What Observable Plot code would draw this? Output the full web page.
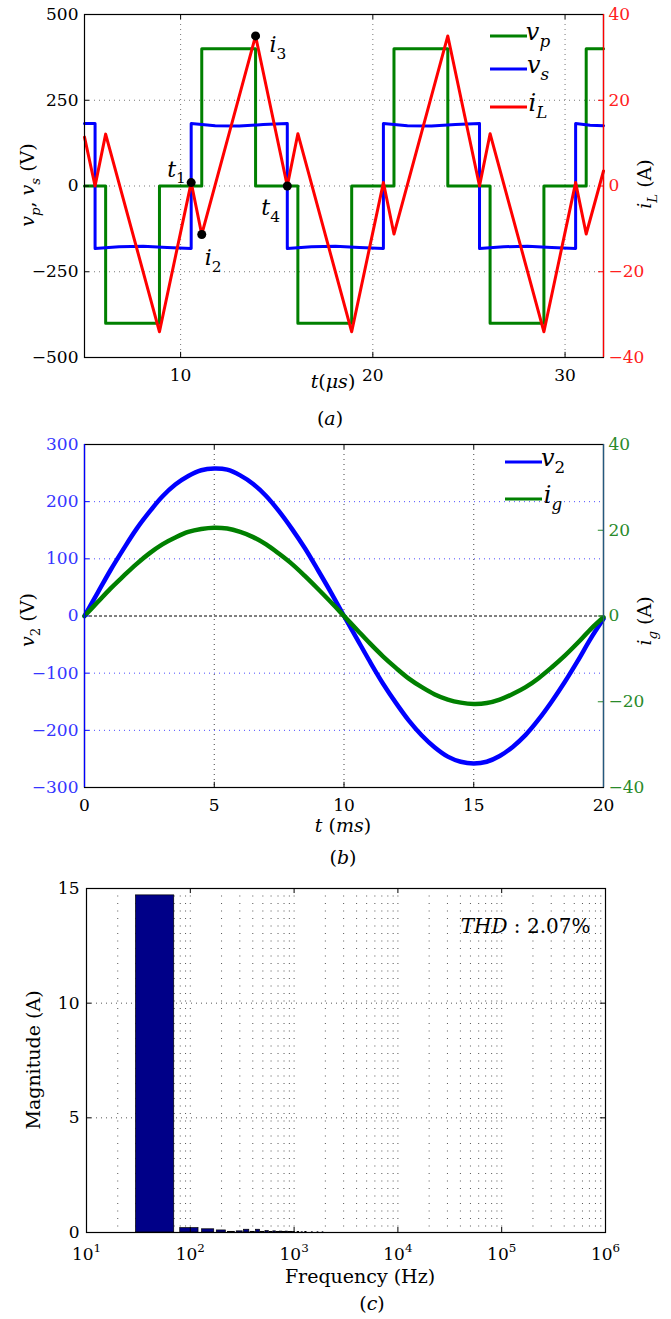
<!DOCTYPE html>
<html><head><meta charset="utf-8">
<script src="https://cdn.jsdelivr.net/npm/d3@7"></script>
<script src="https://cdn.jsdelivr.net/npm/@observablehq/plot@0.6"></script>
<style>
body{margin:0;background:#fff}
#c{width:671px}
#c svg{display:block;overflow:visible}
#c svg text, #c svg tspan{font-family:"DejaVu Serif",serif !important}
</style>
</head><body><div id="c"></div>
<script>
// ---------------- Panel (a) data ----------------
const vpTime = [5, 6.1, 8.9, 11.1, 13.9, 16.1, 18.9, 21.1, 23.9, 26.1, 28.9, 31.1, 32];
const vpVolt = [0, -400, 0, 400, 0, -400, 0, 400, 0, -400, 0, 400, 400];
const vsTime = [5, 5.55, 5.55, 6.8, 8.05, 9.3, 10.55, 10.55, 11.8, 13.05, 14.3, 15.55, 15.55, 16.8, 18.05, 19.3, 20.55, 20.55, 21.8, 23.05, 24.3, 25.55, 25.55, 26.8, 28.05, 29.3, 30.55, 30.55, 31.3, 32];
const vsVolt = [182, 182, -182, -177, -176, -179, -182, 182, 176, 175, 179, 182, -182, -177, -176, -179, -182, 182, 176, 175, 179, 182, -182, -177, -176, -179, -182, 182, 177, 176];
const iLTime = [5, 5.55, 6.1, 8.9, 10.55, 11.1, 13.9, 15.55, 16.1, 18.9, 20.55, 21.1, 23.9, 25.55, 26.1, 28.9, 30.55, 31.1, 32];
const iLAmp  = [11.4, 0, 12.1, -34, 0.8, -11.3, 35, 0, 12.2, -34, 0.8, -11.2, 35, 0, 12.2, -34, 0.8, -11.2, 3.5];
const markTime = [10.55, 11.1, 13.9, 15.55];
const markAmp  = [0.8, -11.3, 35, 0];
const markLabel = ["$t_1$", "$i_2$", "$i_3$", "$t_4$"];
const markOffset = [[-24, -6], [3, 31], [14, 16], [-26, 29]]; // label placement (px)
const aTicksX = [10, 20, 30];
const aTicksV = [-500, -250, 0, 250, 500];
const aTicksI = [-40, -20, 0, 20, 40];

// ---------------- Panel (b) data ----------------
const tMs = [0,0.5,1,1.5,2,2.5,3,3.5,4,4.5,5,5.5,6,6.5,7,7.5,8,8.5,9,9.5,10,10.5,11,11.5,12,12.5,13,13.5,14,14.5,15,15.5,16,16.5,17,17.5,18,18.5,19,19.5,20];
const v2V = [0,40,80,117,152,182,209,230,245,255,258,256,246,231,210,183,152,118,80,41,0,-40,-80,-118,-152,-183,-209,-230,-246,-255,-258,-255,-245,-229,-208,-181,-150,-116,-79,-40,-5];
const igA = [0,3.2,6.4,9.3,12.1,14.6,16.7,18.3,19.6,20.3,20.6,20.4,19.6,18.4,16.7,14.5,12.1,9.3,6.3,3.2,0,-3.2,-6.4,-9.4,-12.1,-14.6,-16.6,-18.3,-19.5,-20.2,-20.5,-20.3,-19.5,-18.2,-16.6,-14.5,-12.0,-9.3,-6.3,-3.1,-0.3];
const bTicksX = [0, 5, 10, 15, 20];
const bTicksV = [-300, -200, -100, 0, 100, 200, 300];
const bTicksI = [-40, -20, 0, 20, 40];

// ---------------- Panel (c) data ----------------
const harmFreq = [50,100,150,200,250,300,350,400,450,500,550,600,650,700,750,800,850,900,950,1000,1100,1200,1300,1500,1700,1900];
const harmMag  = [14.7,0.19,0.14,0.09,0.03,0.05,0.12,0.03,0.12,0.03,0.06,0.02,0.05,0.02,0.04,0.02,0.04,0.02,0.03,0.02,0.02,0.01,0.02,0.01,0.01,0.01];
const harmHalfWidth = 20;
const cDecades = [10, 100, 1000, 10000, 100000, 1000000];
const cTicksY = [0, 5, 10, 15];
const thdText = "$THD$ : 2.07%";

// ---------------- helpers ----------------
const SERIF = "'DejaVu Serif',serif";
const TICK = 17, LABEL = 19;
const minus = d => d < 0 ? "\u2212" + (-d) : String(d);
const NS = "http://www.w3.org/2000/svg";

function mathify(el, s, fs) {
  fs = fs || parseFloat(getComputedStyle(el).fontSize) || 20;
  while (el.firstChild) el.removeChild(el.firstChild);
  let italic = false, cur = 0, i = 0;
  const parts = [];
  while (i < s.length) {
    const c = s[i];
    if (c === "$") { italic = !italic; i++; continue; }
    if (c === "_" || c === "^") {
      let t; const j = i + 1;
      if (s[j] === "{") { const k = s.indexOf("}", j); t = s.slice(j + 1, k); i = k + 1; }
      else { t = s[j]; i = j + 1; }
      parts.push({t, it: italic && /[A-Za-z]/.test(t), shift: c === "_" ? 0.3 * fs : -0.42 * fs, small: true});
      continue;
    }
    let j = i; while (j < s.length && !"$_^".includes(s[j])) j++;
    parts.push({t: s.slice(i, j), it: italic, shift: 0, small: false});
    i = j;
  }
  for (const p of parts) {
    const ts = document.createElementNS(NS, "tspan");
    ts.textContent = p.t;
    if (p.it) ts.setAttribute("font-style", "italic");
    if (p.small) ts.setAttribute("font-size", (0.7 * fs) + "px");
    const d = p.shift - cur;
    if (d) ts.setAttribute("dy", d);
    cur = p.shift;
    el.appendChild(ts);
  }
}
function mathifyAll(svg) {
  svg.querySelectorAll("text").forEach(el => {
    const s = el.textContent;
    if (/[$_^]/.test(s)) mathify(el, s);
  });
}
function addText(svg, s, x, y, {size = LABEL, anchor = "middle", rotate = 0, fill = "black"} = {}) {
  const t = d3.select(svg).append("text")
    .attr("transform", `translate(${x},${y})` + (rotate ? ` rotate(${rotate})` : ""))
    .attr("text-anchor", anchor).attr("font-size", size).attr("fill", fill);
  mathify(t.node(), s, size);
}
function addLegend(svg, items, x1, x2, tx, size) {
  const g = d3.select(svg).append("g");
  for (const it of items) {
    g.append("line").attr("x1", x1).attr("x2", x2).attr("y1", it.y).attr("y2", it.y)
      .attr("stroke", it.color).attr("stroke-width", 3);
    const t = g.append("text").attr("x", tx).attr("y", it.y + 3.5).attr("font-size", size);
    mathify(t.node(), it.label, size);
  }
}
const styleBase = `font-family:${SERIF};font-size:${TICK}px;background:white;color:black;overflow:visible;`;
const gridStyle = (c) => ({stroke: c, strokeOpacity: 1, strokeWidth: 1, strokeDasharray: "1,4"});
const root = document.getElementById("c");

// ---------------- Panel (a) ----------------
const K = 12.5; // iL (A) -> left-axis units
const A_vp = vpTime.map((t, k) => ({t, v: vpVolt[k]}));
const A_vs = vsTime.map((t, k) => ({t, v: vsVolt[k]}));
const A_iL = iLTime.map((t, k) => ({t, i: iLAmp[k]}));
const A_mk = markTime.map((t, k) => ({t, i: markAmp[k], label: markLabel[k]}));

const figA = Plot.plot({
  width: 671, height: 435, marginTop: 14, marginBottom: 78, marginLeft: 84, marginRight: 68,
  style: styleBase,
  x: {domain: [5, 32]},
  y: {domain: [-500, 500]},
  marks: [
    Plot.gridX(aTicksX, gridStyle("#777")),
    Plot.gridY([-250, 0, 250], gridStyle("#777")),
    Plot.line(A_vp, {x: "t", y: "v", curve: "step-after", stroke: "#008000", strokeWidth: 3}),
    Plot.line(A_vs, {x: "t", y: "v", stroke: "#0000ff", strokeWidth: 3}),
    Plot.line(A_iL, {x: "t", y: d => d.i * K, stroke: "#ff0000", strokeWidth: 3}),
    Plot.dot(A_mk, {x: "t", y: d => d.i * K, r: 4.5, fill: "black", stroke: null}),
    ...A_mk.map((m, k) => Plot.text([m], {x: "t", y: d => d.i * K, text: "label", fontSize: 22,
      textAnchor: "start", lineAnchor: "bottom", dx: markOffset[k][0], dy: markOffset[k][1]})),
    Plot.ruleX(aTicksX, {y1: -500, y2: -485, stroke: "black"}),
    Plot.ruleX(aTicksX, {y1: 485, y2: 500, stroke: "black"}),
    Plot.ruleY(aTicksV, {x1: 5, x2: 5.26, stroke: "black"}),
    Plot.ruleY(aTicksI, {y: d => d * K, x1: 31.74, x2: 32, stroke: "#ff0000"}),
    Plot.axisX(aTicksX, {anchor: "bottom", tickSize: 0, tickPadding: 11, label: null}),
    Plot.axisY(aTicksV, {anchor: "left", tickSize: 0, tickPadding: 6, tickFormat: minus, label: null}),
    Plot.axisY(aTicksI, {anchor: "right", y: d => d * K, tickFormat: minus, color: "#ff2020", tickSize: 0, tickPadding: 5, label: null}),
    Plot.frame({stroke: "black", strokeWidth: 1.2}),
    Plot.ruleX([32], {stroke: "#ff0000", strokeWidth: 1.3})
  ]
});
root.appendChild(figA);
mathifyAll(figA);
addText(figA, "$v_p$, $v_s$ (V)", 34, 185, {rotate: -90});
addText(figA, "$i_L$ (A)", 651, 184, {rotate: -90});
addText(figA, "$t$($μs$)", 333, 388);
addText(figA, "($a$)", 330, 425);
addLegend(figA, [
  {y: 36, color: "#008000", label: "$v_p$"},
  {y: 69, color: "#0000ff", label: "$v_s$"},
  {y: 107, color: "#ff0000", label: "$i_L$"}
], 490, 527, 538, 24);

// ---------------- Panel (b) ----------------
const K2 = 7.5; // ig (A) -> left-axis units
const B = tMs.map((t, k) => ({t, v: v2V[k], i: igA[k]}));
const figB = Plot.plot({
  width: 671, height: 435, marginTop: 9, marginBottom: 83, marginLeft: 84, marginRight: 68,
  style: styleBase,
  x: {domain: [0, 20]},
  y: {domain: [-300, 300]},
  marks: [
    Plot.gridX([5, 10, 15], gridStyle("#444")),
    Plot.gridY([-200, -100, 100, 200], gridStyle("#4a4aff")),
    Plot.ruleY([0], {stroke: "black", strokeWidth: 1, strokeDasharray: "3,2"}),
    Plot.line(B, {x: "t", y: "v", curve: "catmull-rom", stroke: "#0000ff", strokeWidth: 4.5}),
    Plot.line(B, {x: "t", y: d => d.i * K2, curve: "catmull-rom", stroke: "#008000", strokeWidth: 4.5}),
    Plot.ruleX([5, 10, 15], {y1: -300, y2: -291, stroke: "black"}),
    Plot.ruleX([5, 10, 15], {y1: 291, y2: 300, stroke: "black"}),
    Plot.ruleY(bTicksV, {x1: 0, x2: 0.2, stroke: "#0000ff"}),
    Plot.ruleY(bTicksI, {y: d => d * K2, x1: 19.8, x2: 20, stroke: "#2a8a2a"}),
    Plot.axisX(bTicksX, {anchor: "bottom", tickSize: 0, tickPadding: 11, label: null}),
    Plot.axisY(bTicksV, {anchor: "left", tickSize: 0, tickPadding: 6, tickFormat: minus, color: "#3535ff", label: null}),
    Plot.axisY(bTicksI, {anchor: "right", y: d => d * K2, tickFormat: minus, color: "#2a8a2a", tickSize: 0, tickPadding: 5, label: null}),
    Plot.frame({stroke: "black", strokeWidth: 1.2}),
    Plot.ruleX([0], {stroke: "#0000ff", strokeWidth: 1.3}),
    Plot.ruleX([20], {stroke: "#24587e", strokeWidth: 1.3})
  ]
});
root.appendChild(figB);
mathifyAll(figB);
addText(figB, "$v_2$ (V)", 34, 185, {rotate: -90});
addText(figB, "$i_g$ (A)", 651, 186, {rotate: -90});
addText(figB, "$t$ ($ms$)", 343, 397);
addText(figB, "($b$)", 343, 429);
addLegend(figB, [
  {y: 27, color: "#0000ff", label: "$v_2$"},
  {y: 64, color: "#008000", label: "$i_g$"}
], 505, 542, 553, 24);

// ---------------- Panel (c) ----------------
const C = harmFreq.map((f, k) => ({f, m: harmMag[k]}));
const minorGrid = cDecades.slice(0, -1).flatMap(d => [1,2,3,4,5,6,7,8,9].map(m => m * d)).concat([1e6]);
const figC = Plot.plot({
  width: 671, height: 449, marginTop: 18, marginBottom: 87, marginLeft: 86, marginRight: 66,
  style: styleBase,
  x: {type: "log", domain: [10, 1e6]},
  y: {domain: [0, 15]},
  marks: [
    Plot.gridX(minorGrid, {stroke: "#555", strokeOpacity: 1, strokeWidth: 1, strokeDasharray: "1,6.5"}),
    Plot.gridY([5, 10], {stroke: "#555", strokeOpacity: 1, strokeWidth: 1, strokeDasharray: "1,4"}),
    Plot.rectY(C, {x1: d => d.f - harmHalfWidth, x2: d => d.f + harmHalfWidth, y: "m", fill: "#000088", stroke: "black", strokeWidth: 0.7}),
    Plot.ruleX(cDecades, {y1: 0, y2: 0.22, stroke: "black"}),
    Plot.ruleX(cDecades, {y1: 14.78, y2: 15, stroke: "black"}),
    Plot.ruleY(cTicksY, {x1: 10, x2: 11.2, stroke: "black"}),
    Plot.ruleY(cTicksY, {x1: 1e6 / 1.12, x2: 1e6, stroke: "black"}),
    Plot.text([thdText], {frameAnchor: "top-right", dx: -15, dy: 44, lineAnchor: "bottom", textAnchor: "end", fontSize: 20}),
    Plot.axisX(cDecades, {anchor: "bottom", tickSize: 0, tickPadding: 15, tickFormat: d => "10^{" + Math.round(Math.log10(d)) + "}", label: null}),
    Plot.axisY(cTicksY, {anchor: "left", tickSize: 0, tickPadding: 7, label: null}),
    Plot.frame({stroke: "black", strokeWidth: 1.2})
  ]
});
root.appendChild(figC);
mathifyAll(figC);
addText(figC, "Magnitude (A)", 40, 190, {rotate: -90});
addText(figC, "Frequency (Hz)", 360, 413);
addText(figC, "($c$)", 372, 440);
</script>
</body></html>
